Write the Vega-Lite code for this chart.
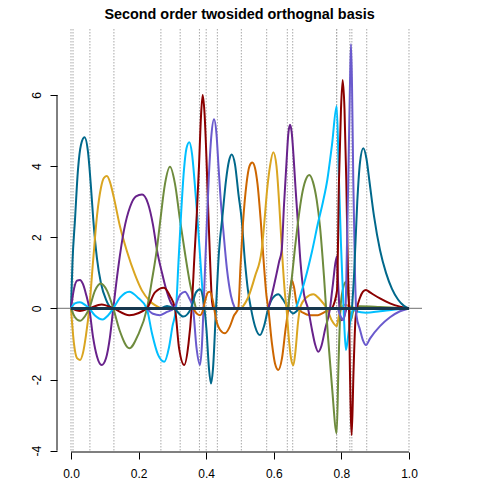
{
"$schema": "https://vega.github.io/schema/vega-lite/v6.json",
"width": 365, "height": 423,
"autosize": "none",
"padding": {"left": 57, "top": 29, "right": 58, "bottom": 28},
"background": "white",
"config": {"view": {"stroke": null}, "font": "Liberation Sans",
  "axisX": {"labelExpr": "format(datum.value, '.1f')", "domain": false, "grid": false, "ticks": true, "tickSize": 7, "tickColor": "black", "labelPadding": 9, "labelFontSize": 12, "labelFont": "Liberation Sans", "labelColor": "black", "labelFlush": false, "labelOverlap": false, "labelBound": false},
  "axisY": {"labelExpr": "datum.value + ''", "labelAngle": -90, "labelAlign": "center", "labelBaseline": "alphabetic", "domain": false, "grid": false, "tickSize": 7, "tickColor": "black", "labelPadding": 10, "labelFontSize": 12, "labelFont": "Liberation Sans", "labelColor": "black", "labelOverlap": false, "labelBound": false, "labelFlush": false}
},
"title": {"text": "Second order twosided orthognal basis", "font": "Liberation Sans", "fontSize": 14.4, "fontWeight": "bold", "anchor": "middle", "offset": 6.5, "color": "black"},
"datasets": {
"knots": [{"x":0},{"x":0.006},{"x":0.056},{"x":0.127},{"x":0.266},{"x":0.323},{"x":0.380},{"x":0.400},{"x":0.433},{"x":0.504},{"x":0.579},{"x":0.640},{"x":0.656},{"x":0.786},{"x":0.786},{"x":0.825},{"x":0.831},{"x":0.875},{"x":1.0}],
"curves": [
{"s":"f01","x":0,"y":0},{"s":"f01","x":0.0044,"y":1.3},{"s":"f01","x":0.0118,"y":2.49},{"s":"f01","x":0.0207,"y":3.9},{"s":"f01","x":0.0296,"y":4.6},{"s":"f01","x":0.0399,"y":4.81},{"s":"f01","x":0.0503,"y":4.4},{"s":"f01","x":0.0592,"y":3.4},{"s":"f01","x":0.0660,"y":2.49},{"s":"f01","x":0.0769,"y":1.4},{"s":"f01","x":0.0888,"y":0.7},{"s":"f01","x":0.1036,"y":0.25},{"s":"f01","x":0.1154,"y":0.05},{"s":"f01","x":0.1272,"y":0},{"s":"f01","x":0.2663,"y":0},
{"s":"f02","x":0,"y":0},{"s":"f02","x":0.0089,"y":-1.0},{"s":"f02","x":0.0178,"y":-1.4},{"s":"f02","x":0.0266,"y":-1.45},{"s":"f02","x":0.0355,"y":-1.25},{"s":"f02","x":0.0444,"y":-0.75},{"s":"f02","x":0.0541,"y":0},{"s":"f02","x":0.0651,"y":1.3},{"s":"f02","x":0.0769,"y":2.6},{"s":"f02","x":0.0888,"y":3.4},{"s":"f02","x":0.0976,"y":3.67},{"s":"f02","x":0.1065,"y":3.72},{"s":"f02","x":0.1154,"y":3.55},{"s":"f02","x":0.1272,"y":3.1},{"s":"f02","x":0.1450,"y":2.3},{"s":"f02","x":0.1657,"y":1.6},{"s":"f02","x":0.1893,"y":0.95},{"s":"f02","x":0.2101,"y":0.5},{"s":"f02","x":0.2337,"y":0.2},{"s":"f02","x":0.2663,"y":0},
{"s":"f03","x":0,"y":0},{"s":"f03","x":0.0089,"y":0.55},{"s":"f03","x":0.0178,"y":0.78},{"s":"f03","x":0.0266,"y":0.8},{"s":"f03","x":0.0355,"y":0.68},{"s":"f03","x":0.0444,"y":0.4},{"s":"f03","x":0.0541,"y":0},{"s":"f03","x":0.0651,"y":-0.8},{"s":"f03","x":0.0769,"y":-1.35},{"s":"f03","x":0.0908,"y":-1.59},{"s":"f03","x":0.1036,"y":-1.4},{"s":"f03","x":0.1154,"y":-0.8},{"s":"f03","x":0.1251,"y":0},{"s":"f03","x":0.1391,"y":1.1},{"s":"f03","x":0.1568,"y":2.2},{"s":"f03","x":0.1746,"y":2.85},{"s":"f03","x":0.1923,"y":3.15},{"s":"f03","x":0.2101,"y":3.2},{"s":"f03","x":0.2278,"y":2.95},{"s":"f03","x":0.2426,"y":2.35},{"s":"f03","x":0.2544,"y":1.64},{"s":"f03","x":0.2692,"y":1.0},{"s":"f03","x":0.2811,"y":0.55},{"s":"f03","x":0.2959,"y":0.15},{"s":"f03","x":0.3077,"y":0},
{"s":"f04","x":0,"y":0},{"s":"f04","x":0.0118,"y":-0.25},{"s":"f04","x":0.0266,"y":-0.35},{"s":"f04","x":0.0414,"y":-0.22},{"s":"f04","x":0.0541,"y":0},{"s":"f04","x":0.0710,"y":0.5},{"s":"f04","x":0.0879,"y":0.7},{"s":"f04","x":0.1065,"y":0.5},{"s":"f04","x":0.1251,"y":0},{"s":"f04","x":0.1450,"y":-0.65},{"s":"f04","x":0.1725,"y":-1.12},{"s":"f04","x":0.1982,"y":-0.75},{"s":"f04","x":0.2249,"y":0},{"s":"f04","x":0.2396,"y":0.8},{"s":"f04","x":0.2536,"y":1.64},{"s":"f04","x":0.2633,"y":2.4},{"s":"f04","x":0.2781,"y":3.5},{"s":"f04","x":0.2929,"y":3.98},{"s":"f04","x":0.3077,"y":3.5},{"s":"f04","x":0.3225,"y":2.49},{"s":"f04","x":0.3373,"y":1.55},{"s":"f04","x":0.3521,"y":0.7},{"s":"f04","x":0.3698,"y":0},
{"s":"f05","x":0,"y":0},{"s":"f05","x":0.0118,"y":0.14},{"s":"f05","x":0.0266,"y":0.17},{"s":"f05","x":0.0414,"y":0.1},{"s":"f05","x":0.0541,"y":0},{"s":"f05","x":0.0710,"y":-0.2},{"s":"f05","x":0.0938,"y":-0.31},{"s":"f05","x":0.1095,"y":-0.2},{"s":"f05","x":0.1251,"y":0},{"s":"f05","x":0.1450,"y":0.3},{"s":"f05","x":0.1725,"y":0.47},{"s":"f05","x":0.1982,"y":0.3},{"s":"f05","x":0.2240,"y":0},{"s":"f05","x":0.2396,"y":-0.7},{"s":"f05","x":0.2574,"y":-1.3},{"s":"f05","x":0.2760,"y":-1.5},{"s":"f05","x":0.2899,"y":-1.1},{"s":"f05","x":0.3003,"y":-0.5},{"s":"f05","x":0.3107,"y":0},{"s":"f05","x":0.3180,"y":1.3},{"s":"f05","x":0.3254,"y":2.6},{"s":"f05","x":0.3343,"y":3.9},{"s":"f05","x":0.3417,"y":4.5},{"s":"f05","x":0.3500,"y":4.67},{"s":"f05","x":0.3580,"y":4.35},{"s":"f05","x":0.3654,"y":3.6},{"s":"f05","x":0.3728,"y":2.7},{"s":"f05","x":0.3817,"y":1.5},{"s":"f05","x":0.3891,"y":0.5},{"s":"f05","x":0.3950,"y":0},
{"s":"f06","x":0,"y":0},{"s":"f06","x":0.0266,"y":-0.07},{"s":"f06","x":0.0541,"y":0},{"s":"f06","x":0.0908,"y":0.11},{"s":"f06","x":0.1251,"y":0},{"s":"f06","x":0.1725,"y":-0.19},{"s":"f06","x":0.2240,"y":0},{"s":"f06","x":0.2485,"y":0.45},{"s":"f06","x":0.2751,"y":0.58},{"s":"f06","x":0.2929,"y":0.35},{"s":"f06","x":0.3077,"y":0},{"s":"f06","x":0.3195,"y":-1.1},{"s":"f06","x":0.3352,"y":-1.59},{"s":"f06","x":0.3476,"y":-1.0},{"s":"f06","x":0.3571,"y":0},{"s":"f06","x":0.3654,"y":1.5},{"s":"f06","x":0.3719,"y":2.6},{"s":"f06","x":0.3787,"y":4.0},{"s":"f06","x":0.3846,"y":5.4},{"s":"f06","x":0.3896,"y":6.0},{"s":"f06","x":0.3950,"y":5.5},{"s":"f06","x":0.4009,"y":4.2},{"s":"f06","x":0.4062,"y":2.7},{"s":"f06","x":0.4121,"y":1.2},{"s":"f06","x":0.4172,"y":0.2},{"s":"f06","x":0.4216,"y":0},
{"s":"f07","x":0.2240,"y":0},{"s":"f07","x":0.2426,"y":-0.15},{"s":"f07","x":0.2633,"y":-0.19},{"s":"f07","x":0.2840,"y":-0.1},{"s":"f07","x":0.3047,"y":0},{"s":"f07","x":0.3225,"y":0.38},{"s":"f07","x":0.3373,"y":0.47},{"s":"f07","x":0.3491,"y":0.3},{"s":"f07","x":0.3609,"y":0},{"s":"f07","x":0.3713,"y":-1.1},{"s":"f07","x":0.3817,"y":-1.59},{"s":"f07","x":0.3876,"y":-1.0},{"s":"f07","x":0.3920,"y":0},{"s":"f07","x":0.3994,"y":1.8},{"s":"f07","x":0.4083,"y":3.8},{"s":"f07","x":0.4157,"y":4.9},{"s":"f07","x":0.4231,"y":5.32},{"s":"f07","x":0.4305,"y":4.9},{"s":"f07","x":0.4364,"y":4.0},{"s":"f07","x":0.4429,"y":3.05},{"s":"f07","x":0.4506,"y":2.2},{"s":"f07","x":0.4615,"y":1.1},{"s":"f07","x":0.4734,"y":0.35},{"s":"f07","x":0.4852,"y":0},
{"s":"f08","x":0.2663,"y":0},{"s":"f08","x":0.2840,"y":0.07},{"s":"f08","x":0.3047,"y":0},{"s":"f08","x":0.3323,"y":-0.23},{"s":"f08","x":0.3550,"y":0},{"s":"f08","x":0.3698,"y":0.45},{"s":"f08","x":0.3817,"y":0.54},{"s":"f08","x":0.3920,"y":0.2},{"s":"f08","x":0.4009,"y":-0.6},{"s":"f08","x":0.4083,"y":-1.7},{"s":"f08","x":0.4142,"y":-2.11},{"s":"f08","x":0.4201,"y":-1.7},{"s":"f08","x":0.4290,"y":0},{"s":"f08","x":0.4379,"y":1.6},{"s":"f08","x":0.4482,"y":2.6},{"s":"f08","x":0.4586,"y":3.6},{"s":"f08","x":0.4675,"y":4.15},{"s":"f08","x":0.4754,"y":4.33},{"s":"f08","x":0.4852,"y":4.05},{"s":"f08","x":0.4956,"y":3.2},{"s":"f08","x":0.5050,"y":2.49},{"s":"f08","x":0.5148,"y":1.3},{"s":"f08","x":0.5237,"y":0.5},{"s":"f08","x":0.5325,"y":0},{"s":"f08","x":0.5444,"y":-0.5},{"s":"f08","x":0.5592,"y":-0.75},{"s":"f08","x":0.5710,"y":-0.5},{"s":"f08","x":0.5837,"y":0},{"s":"f08","x":0.5976,"y":0.3},{"s":"f08","x":0.6133,"y":0.4},{"s":"f08","x":0.6272,"y":0.25},{"s":"f08","x":0.6429,"y":0},{"s":"f08","x":0.6568,"y":-0.14},{"s":"f08","x":0.6716,"y":-0.05},{"s":"f08","x":0.6923,"y":0},
{"s":"f09","x":0.3609,"y":0},{"s":"f09","x":0.3728,"y":-0.15},{"s":"f09","x":0.3817,"y":-0.19},{"s":"f09","x":0.3905,"y":-0.05},{"s":"f09","x":0.3964,"y":0.2},{"s":"f09","x":0.4053,"y":0.45},{"s":"f09","x":0.4112,"y":0.47},{"s":"f09","x":0.4201,"y":0.2},{"s":"f09","x":0.4290,"y":-0.3},{"s":"f09","x":0.4408,"y":-0.6},{"s":"f09","x":0.4556,"y":-0.7},{"s":"f09","x":0.4704,"y":-0.5},{"s":"f09","x":0.4822,"y":-0.2},{"s":"f09","x":0.4950,"y":0},{"s":"f09","x":0.5015,"y":1.2},{"s":"f09","x":0.5089,"y":2.4},{"s":"f09","x":0.5192,"y":3.5},{"s":"f09","x":0.5281,"y":4.0},{"s":"f09","x":0.5364,"y":4.1},{"s":"f09","x":0.5444,"y":3.95},{"s":"f09","x":0.5518,"y":3.5},{"s":"f09","x":0.5612,"y":2.49},{"s":"f09","x":0.5710,"y":1.2},{"s":"f09","x":0.5784,"y":0.35},{"s":"f09","x":0.5837,"y":0},{"s":"f09","x":0.5947,"y":-1.0},{"s":"f09","x":0.6036,"y":-1.55},{"s":"f09","x":0.6133,"y":-1.73},{"s":"f09","x":0.6243,"y":-1.4},{"s":"f09","x":0.6346,"y":-0.6},{"s":"f09","x":0.6429,"y":0},{"s":"f09","x":0.6479,"y":0.5},{"s":"f09","x":0.6530,"y":0.8},{"s":"f09","x":0.6598,"y":0.6},{"s":"f09","x":0.6672,"y":0.15},{"s":"f09","x":0.6716,"y":0},{"s":"f09","x":0.6864,"y":-0.12},{"s":"f09","x":0.7071,"y":-0.19},{"s":"f09","x":0.7308,"y":-0.19},{"s":"f09","x":0.7515,"y":-0.1},{"s":"f09","x":0.7722,"y":0},
{"s":"f10","x":0.5050,"y":0},{"s":"f10","x":0.5237,"y":0.3},{"s":"f10","x":0.5444,"y":0.9},{"s":"f10","x":0.5642,"y":1.64},{"s":"f10","x":0.5719,"y":2.4},{"s":"f10","x":0.5799,"y":3.3},{"s":"f10","x":0.5888,"y":4.0},{"s":"f10","x":0.5985,"y":4.39},{"s":"f10","x":0.6080,"y":4.0},{"s":"f10","x":0.6163,"y":2.9},{"s":"f10","x":0.6243,"y":1.6},{"s":"f10","x":0.6331,"y":0.4},{"s":"f10","x":0.6376,"y":0},{"s":"f10","x":0.6450,"y":-0.9},{"s":"f10","x":0.6509,"y":-1.4},{"s":"f10","x":0.6577,"y":-1.6},{"s":"f10","x":0.6642,"y":-1.2},{"s":"f10","x":0.6716,"y":-0.4},{"s":"f10","x":0.6775,"y":0},{"s":"f10","x":0.6953,"y":0.3},{"s":"f10","x":0.7169,"y":0.4},{"s":"f10","x":0.7367,"y":0.25},{"s":"f10","x":0.7565,"y":0},{"s":"f10","x":0.7722,"y":-0.35},{"s":"f10","x":0.7861,"y":-0.5},{"s":"f10","x":0.7929,"y":-0.2},{"s":"f10","x":0.8018,"y":0.05},{"s":"f10","x":0.8107,"y":0.1},{"s":"f10","x":0.8254,"y":0.05},{"s":"f10","x":0.8550,"y":0},
{"s":"f11","x":0.5837,"y":0},{"s":"f11","x":0.5947,"y":0.4},{"s":"f11","x":0.6065,"y":0.9},{"s":"f11","x":0.6154,"y":1.3},{"s":"f11","x":0.6234,"y":1.64},{"s":"f11","x":0.6302,"y":2.9},{"s":"f11","x":0.6376,"y":4.1},{"s":"f11","x":0.6429,"y":4.9},{"s":"f11","x":0.6479,"y":5.16},{"s":"f11","x":0.6530,"y":4.95},{"s":"f11","x":0.6583,"y":4.3},{"s":"f11","x":0.6642,"y":3.4},{"s":"f11","x":0.6707,"y":2.49},{"s":"f11","x":0.6790,"y":1.3},{"s":"f11","x":0.6893,"y":0.4},{"s":"f11","x":0.7012,"y":0},{"s":"f11","x":0.7130,"y":-0.6},{"s":"f11","x":0.7219,"y":-1.0},{"s":"f11","x":0.7317,"y":-1.22},{"s":"f11","x":0.7411,"y":-1.05},{"s":"f11","x":0.7515,"y":-0.6},{"s":"f11","x":0.7663,"y":0},{"s":"f11","x":0.7751,"y":0.7},{"s":"f11","x":0.7861,"y":1.45},{"s":"f11","x":0.7914,"y":0.5},{"s":"f11","x":0.7959,"y":-0.2},{"s":"f11","x":0.8009,"y":-0.33},{"s":"f11","x":0.8077,"y":-0.25},{"s":"f11","x":0.8166,"y":0},{"s":"f11","x":0.8254,"y":0},
{"s":"f12","x":0.6420,"y":0},{"s":"f12","x":0.6538,"y":0.9},{"s":"f12","x":0.6627,"y":1.7},{"s":"f12","x":0.6725,"y":2.49},{"s":"f12","x":0.6834,"y":3.2},{"s":"f12","x":0.6938,"y":3.6},{"s":"f12","x":0.7050,"y":3.75},{"s":"f12","x":0.7160,"y":3.55},{"s":"f12","x":0.7269,"y":3.05},{"s":"f12","x":0.7367,"y":2.3},{"s":"f12","x":0.7485,"y":0.9},{"s":"f12","x":0.7604,"y":-0.8},{"s":"f12","x":0.7722,"y":-2.2},{"s":"f12","x":0.7861,"y":-3.51},{"s":"f12","x":0.7914,"y":-1.6},{"s":"f12","x":0.7973,"y":0},{"s":"f12","x":0.8047,"y":0.55},{"s":"f12","x":0.8136,"y":0.75},{"s":"f12","x":0.8210,"y":0.3},{"s":"f12","x":0.8284,"y":-0.32},{"s":"f12","x":0.8343,"y":-0.1},{"s":"f12","x":0.8402,"y":0},{"s":"f12","x":0.8550,"y":0.06},{"s":"f12","x":0.9142,"y":0.04},{"s":"f12","x":1,"y":0},
{"s":"f13","x":0.6657,"y":0},{"s":"f13","x":0.6923,"y":0.8},{"s":"f13","x":0.7130,"y":1.6},{"s":"f13","x":0.7308,"y":2.4},{"s":"f13","x":0.7456,"y":3.0},{"s":"f13","x":0.7583,"y":3.61},{"s":"f13","x":0.7722,"y":4.6},{"s":"f13","x":0.7861,"y":5.69},{"s":"f13","x":0.7929,"y":3.6},{"s":"f13","x":0.7988,"y":1.8},{"s":"f13","x":0.8047,"y":0.4},{"s":"f13","x":0.8092,"y":-0.6},{"s":"f13","x":0.8136,"y":-1.17},{"s":"f13","x":0.8210,"y":-0.7},{"s":"f13","x":0.8284,"y":-0.25},{"s":"f13","x":0.8352,"y":0},{"s":"f13","x":0.8432,"y":-0.08},{"s":"f13","x":0.8728,"y":-0.12},{"s":"f13","x":0.9142,"y":-0.08},{"s":"f13","x":0.9586,"y":-0.03},{"s":"f13","x":1,"y":0},
{"s":"f14","x":0.7722,"y":0},{"s":"f14","x":0.7870,"y":0.5},{"s":"f14","x":0.7929,"y":3.6},{"s":"f14","x":0.7988,"y":5.6},{"s":"f14","x":0.8038,"y":6.42},{"s":"f14","x":0.8092,"y":5.6},{"s":"f14","x":0.8145,"y":3.61},{"s":"f14","x":0.8195,"y":1.0},{"s":"f14","x":0.8225,"y":0},{"s":"f14","x":0.8254,"y":-1.8},{"s":"f14","x":0.8305,"y":-3.56},{"s":"f14","x":0.8358,"y":-1.8},{"s":"f14","x":0.8417,"y":-0.3},{"s":"f14","x":0.8462,"y":0},{"s":"f14","x":0.8550,"y":0.3},{"s":"f14","x":0.8639,"y":0.47},{"s":"f14","x":0.8728,"y":0.52},{"s":"f14","x":0.8846,"y":0.45},{"s":"f14","x":0.9142,"y":0.28},{"s":"f14","x":0.9438,"y":0.14},{"s":"f14","x":0.9734,"y":0.05},{"s":"f14","x":1,"y":0},
{"s":"f15","x":0.7899,"y":0},{"s":"f15","x":0.7988,"y":-0.25},{"s":"f15","x":0.8056,"y":-0.33},{"s":"f15","x":0.8121,"y":0},{"s":"f15","x":0.8166,"y":1.8},{"s":"f15","x":0.8204,"y":3.61},{"s":"f15","x":0.8254,"y":6.3},{"s":"f15","x":0.8284,"y":7.43},{"s":"f15","x":0.8314,"y":6.3},{"s":"f15","x":0.8352,"y":3.61},{"s":"f15","x":0.8402,"y":1.0},{"s":"f15","x":0.8447,"y":-0.2},{"s":"f15","x":0.8550,"y":-0.6},{"s":"f15","x":0.8639,"y":-0.9},{"s":"f15","x":0.8728,"y":-1.03},{"s":"f15","x":0.8846,"y":-0.85},{"s":"f15","x":0.9142,"y":-0.5},{"s":"f15","x":0.9438,"y":-0.25},{"s":"f15","x":0.9734,"y":-0.08},{"s":"f15","x":1,"y":0},
{"s":"f16","x":0.8314,"y":0},{"s":"f16","x":0.8373,"y":0.9},{"s":"f16","x":0.8470,"y":3.0},{"s":"f16","x":0.8550,"y":4.1},{"s":"f16","x":0.8648,"y":4.5},{"s":"f16","x":0.8743,"y":4.2},{"s":"f16","x":0.8825,"y":3.61},{"s":"f16","x":0.8964,"y":2.6},{"s":"f16","x":0.9142,"y":1.64},{"s":"f16","x":0.9320,"y":1.0},{"s":"f16","x":0.9497,"y":0.55},{"s":"f16","x":0.9675,"y":0.25},{"s":"f16","x":0.9852,"y":0.07},{"s":"f16","x":1,"y":0}
]
},
"layer": [
{"data": {"name": "knots"}, "mark": {"type": "rule", "color": "#A8A8A8", "strokeDash": [1.5, 1.5], "strokeWidth": 1},
 "encoding": {"x": {"field": "x", "type": "quantitative", "scale": {"domain": [-0.0414, 1.0385], "nice": false, "zero": false}, "title": null, "axis": {"values": [0, 0.2, 0.4, 0.6, 0.8, 1]}}}},
{"data": {"values": [{"a": 1}]}, "mark": {"type": "rule", "color": "#8C8C8C", "strokeWidth": 1.2},
 "encoding": {"y": {"datum": 0, "type": "quantitative", "scale": {"domain": [-4.037, 7.855], "nice": false, "zero": false}, "title": null, "axis": {"values": [-4, -2, 0, 2, 4, 6]}}, "x": {"datum": -0.0414, "type": "quantitative", "title": null, "axis": {"values": [0, 0.2, 0.4, 0.6, 0.8, 1]}}, "x2": {"datum": 1.0385}}},
{"data": {"name": "curves"}, "mark": {"type": "line", "interpolate": "monotone", "strokeWidth": 2},
 "encoding": {
  "x": {"field": "x", "type": "quantitative", "title": null, "axis": {"values": [0, 0.2, 0.4, 0.6, 0.8, 1]}},
  "y": {"field": "y", "type": "quantitative", "title": null, "axis": {"values": [-4, -2, 0, 2, 4, 6]}},
  "color": {"field": "s", "type": "nominal", "legend": null,
    "scale": {"domain": ["f01","f02","f03","f04","f05","f06","f07","f08","f09","f10","f11","f12","f13","f14","f15","f16"],
              "range": ["#00688B","#DAA520","#68228B","#6E8B3D","#00BFFF","#8B0000","#6A5ACD","#00688B","#CD6600","#DAA520","#68228B","#6E8B3D","#00BFFF","#8B0000","#6A5ACD","#00688B"]}}
 }},
{"data": {"values": [{"a": 1}]}, "mark": {"type": "rule", "color": "#17384F", "strokeWidth": 3},
 "encoding": {"y": {"datum": 0, "type": "quantitative", "title": null, "axis": {"values": [-4, -2, 0, 2, 4, 6]}}, "x": {"datum": 0, "type": "quantitative", "title": null, "axis": {"values": [0, 0.2, 0.4, 0.6, 0.8, 1]}}, "x2": {"datum": 1}}},
{"data": {"values": [{"a": 1}]}, "mark": {"type": "rule", "color": "black", "strokeWidth": 1},
 "encoding": {"x": {"datum": -0.0414, "type": "quantitative", "title": null, "axis": {"values": [0, 0.2, 0.4, 0.6, 0.8, 1]}}, "y": {"datum": -4, "type": "quantitative", "title": null, "axis": {"values": [-4, -2, 0, 2, 4, 6]}}, "y2": {"datum": 6}}},
{"data": {"values": [{"a": 1}]}, "mark": {"type": "rule", "color": "black", "strokeWidth": 1},
 "encoding": {"y": {"datum": -4.037, "type": "quantitative", "title": null, "axis": {"values": [-4, -2, 0, 2, 4, 6]}}, "x": {"datum": 0, "type": "quantitative", "title": null, "axis": {"values": [0, 0.2, 0.4, 0.6, 0.8, 1]}}, "x2": {"datum": 1}}}
]
}
